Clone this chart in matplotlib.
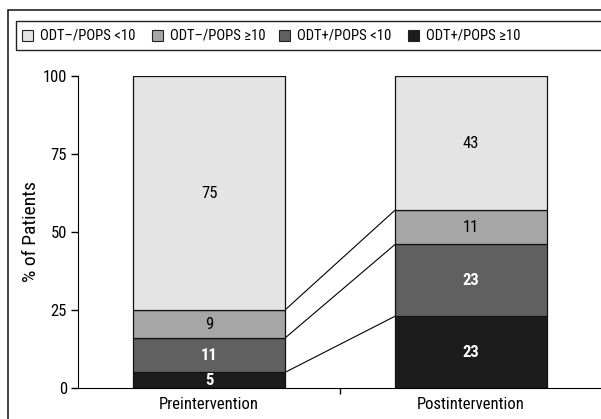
import numpy as np
import matplotlib.pyplot as plt
from matplotlib.patches import Rectangle

plt.rcParams['font.family'] = ['Roboto Condensed', 'Liberation Sans Narrow',
                               'Liberation Sans', 'DejaVu Sans']

# data
categories = ['Preintervention', 'Postintervention']
series_names = ['ODT+/POPS ≥10', 'ODT+/POPS <10', 'ODT–/POPS ≥10', 'ODT–/POPS <10']
values = {
    'ODT+/POPS ≥10': [5, 23],
    'ODT+/POPS <10': [11, 23],
    'ODT–/POPS ≥10': [9, 11],
    'ODT–/POPS <10': [75, 43],
}
colors = {
    'ODT+/POPS ≥10': '#1c1c1c',
    'ODT+/POPS <10': '#606060',
    'ODT–/POPS ≥10': '#a6a6a6',
    'ODT–/POPS <10': '#e4e4e4',
}
text_styles = {
    'ODT+/POPS ≥10': ('white', 'bold'),
    'ODT+/POPS <10': ('white', 'bold'),
    'ODT–/POPS ≥10': ('black', 'normal'),
    'ODT–/POPS <10': ('black', 'normal'),
}
yticks = [0, 25, 50, 75, 100]
legend_x = [22, 152, 279, 408]   # pixel left of each legend square

W, H = 601, 419
FS = 12

fig = plt.figure(figsize=(W / 100, H / 100), dpi=100)
ax = fig.add_axes([78 / W, 1 - 388 / H, 524 / W, 312 / H])

x = np.arange(len(categories))
width = 0.58
bottom = np.zeros(len(categories))
tops = []
for name in series_names:
    v = np.array(values[name], dtype=float)
    ax.bar(x, v, width, bottom=bottom, color=colors[name],
           edgecolor='#111111', linewidth=0.9, zorder=2)
    tc, tw = text_styles[name]
    for xi, vi, bi in zip(x, v, bottom):
        ax.text(xi, bi + vi / 2, f"{int(vi)}", ha='center', va='center',
                color=tc, fontweight=tw, fontsize=12, zorder=3)
    bottom = bottom + v
    tops.append(bottom.copy())

# connector lines between the lower segments
for t in tops[:3]:
    ax.plot([x[0] + width / 2, x[1] - width / 2], [t[0], t[1]],
            color='black', linewidth=0.8, zorder=1)

ax.set_xlim(-0.5, 1.5)
ax.set_ylim(0, 100)
ax.set_yticks(yticks)
ax.set_xticks([0.5])
ax.set_xticklabels([])
ax.tick_params(axis='y', length=5, width=1, labelsize=FS, pad=3)
ax.tick_params(axis='x', length=4, width=1, direction='out')
for xi, c in zip(x, categories):
    ax.text(xi, -3.0, c, ha='center', va='top', fontsize=FS)
ax.spines['top'].set_visible(False)
ax.spines['right'].set_visible(False)
ax.set_ylabel('% of Patients', fontsize=14)
ax.yaxis.set_label_coords(-(78 - 40) / 524, 0.5)

# outer frame and legend box
fig.patches.append(Rectangle((8 / W, -0.05), 1.0, 1 - 10 / H + 0.05,
                             transform=fig.transFigure, fill=False,
                             edgecolor='#222222', linewidth=1.2))
fig.patches.append(Rectangle((16 / W, 1 - 50 / H), 1.0, 29 / H,
                             transform=fig.transFigure, fill=False,
                             edgecolor='#222222', linewidth=1.0))

# legend entries
for px, name in zip(legend_x, series_names[::-1]):
    fig.patches.append(Rectangle((px / W, 1 - 41 / H), 11 / W, 11 / H,
                                 transform=fig.transFigure, facecolor=colors[name],
                                 edgecolor='#222222', linewidth=0.8))
    fig.text((px + 18) / W, 1 - 35.5 / H, name, ha='left', va='center', fontsize=10.5)

fig.savefig('out.png', dpi=100)
